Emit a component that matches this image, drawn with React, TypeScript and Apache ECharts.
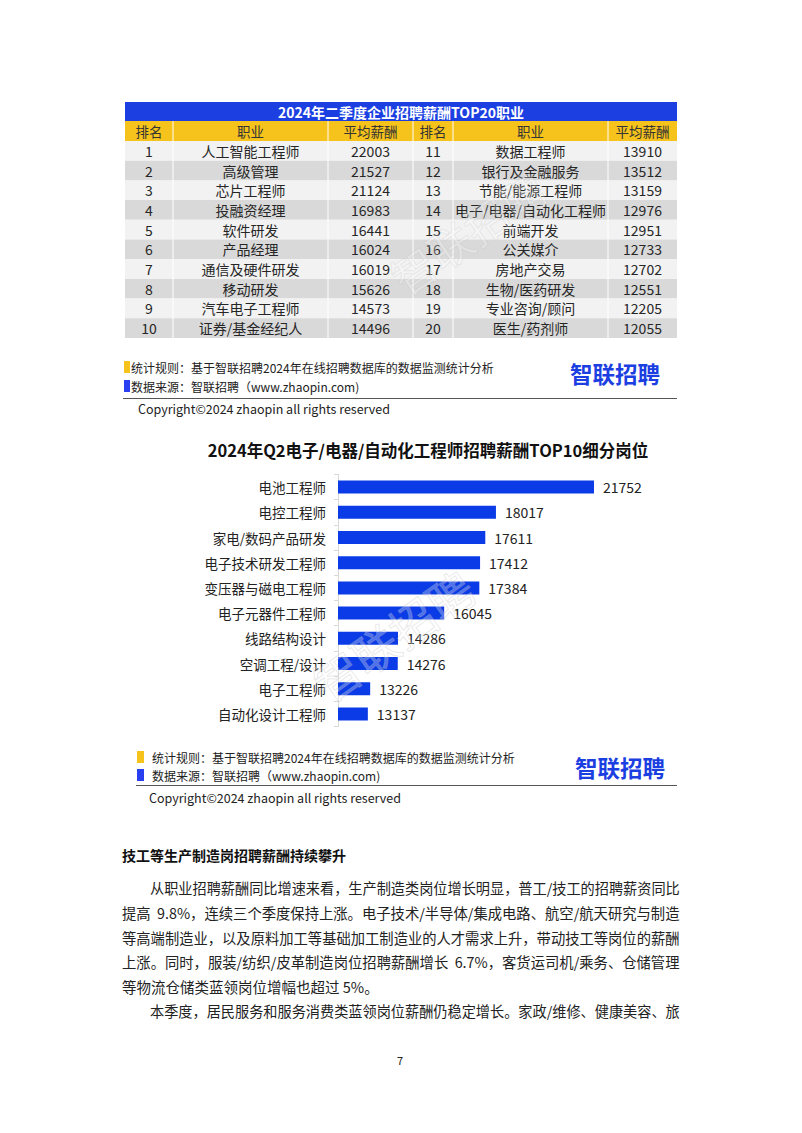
import React, { useEffect, useRef } from "react";
import * as echarts from "echarts";

const FONT = '"Noto Sans CJK SC", "Microsoft YaHei", sans-serif';

// ---------- table data ----------
const tableTitle = "2024年二季度企业招聘薪酬TOP20职业";
const tableHeaders = ["排名", "职业", "平均薪酬", "排名", "职业", "平均薪酬"];
const leftRanks = [1, 2, 3, 4, 5, 6, 7, 8, 9, 10];
const leftJobs = ["人工智能工程师", "高级管理", "芯片工程师", "投融资经理", "软件研发", "产品经理", "通信及硬件研发", "移动研发", "汽车电子工程师", "证券/基金经纪人"];
const leftSalaries = [22003, 21527, 21124, 16983, 16441, 16024, 16019, 15626, 14573, 14496];
const rightRanks = [11, 12, 13, 14, 15, 16, 17, 18, 19, 20];
const rightJobs = ["数据工程师", "银行及金融服务", "节能/能源工程师", "电子/电器/自动化工程师", "前端开发", "公关媒介", "房地产交易", "生物/医药研发", "专业咨询/顾问", "医生/药剂师"];
const rightSalaries = [13910, 13512, 13159, 12976, 12951, 12733, 12702, 12551, 12205, 12055];

// ---------- bar chart data ----------
const chartTitle = "2024年Q2电子/电器/自动化工程师招聘薪酬TOP10细分岗位";
const positions = ["电池工程师", "电控工程师", "家电/数码产品研发", "电子技术研发工程师", "变压器与磁电工程师", "电子元器件工程师", "线路结构设计", "空调工程/设计", "电子工程师", "自动化设计工程师"];
const positionSalaries = [21752, 18017, 17611, 17412, 17384, 16045, 14286, 14276, 13226, 13137];

// ---------- text ----------
const noteRule = "统计规则：基于智联招聘2024年在线招聘数据库的数据监测统计分析";
const noteSource = "数据来源：智联招聘（www.zhaopin.com)";
const logoText = "智联招聘";
const copyright = "Copyright©2024 zhaopin all rights reserved";
const heading = "技工等生产制造岗招聘薪酬持续攀升";
const paragraphLines = [
  "从职业招聘薪酬同比增速来看，生产制造类岗位增长明显，普工/技工的招聘薪资同比",
  "提高  9.8%，连续三个季度保持上涨。电子技术/半导体/集成电路、航空/航天研究与制造",
  "等高端制造业，以及原料加工等基础加工制造业的人才需求上升，带动技工等岗位的薪酬",
  "上涨。同时，服装/纺织/皮革制造岗位招聘薪酬增长  6.7%，客货运司机/乘务、仓储管理",
  "等物流仓储类蓝领岗位增幅也超过 5%。",
  "本季度，居民服务和服务消费类蓝领岗位薪酬仍稳定增长。家政/维修、健康美容、旅",
];
const indentedLines = [0, 5];
const justifiedLines = [0, 1, 2, 3, 5];
const pageNumber = "7";

const BLUE = "#1c3fe2";
const BAR_BLUE = "#0a3be6";
const YELLOW = "#f6c21c";

let measureCtx: CanvasRenderingContext2D | null = null;
function measure(text: string, fontSize: number, weight = "normal") {
  if (!measureCtx) measureCtx = document.createElement("canvas").getContext("2d");
  if (!measureCtx) return 0;
  measureCtx.font = `${weight} ${fontSize}px ${FONT}`;
  return measureCtx.measureText(text).width;
}

function txt(text: string, x: number, y: number, opts: any = {}) {
  return {
    type: "text",
    x,
    y,
    z: opts.z ?? 10,
    rotation: opts.rotation ?? 0,
    scaleX: opts.scaleX ?? 1,
    style: {
      text,
      fontSize: opts.fontSize ?? 14,
      fontFamily: FONT,
      fontWeight: opts.fontWeight ?? "normal",
      fill: opts.fill ?? "#222",
      stroke: opts.stroke,
      lineWidth: opts.lineWidth,
      align: opts.align ?? "left",
      verticalAlign: opts.verticalAlign ?? "middle",
    },
  };
}

function buildGraphics() {
  const g: any[] = [];
  // ---- table ----
  const cols = [125, 173, 328, 413, 453, 608, 677];
  const tTop = 102;
  const titleH = 19;
  const headH = 20;
  const rowH = 19.7;
  const left = cols[0];
  const right = cols[cols.length - 1];
  g.push({ type: "rect", shape: { x: left, y: tTop, width: right - left, height: titleH }, style: { fill: BLUE } });
  g.push(txt(tableTitle, (left + right) / 2, tTop + titleH / 2 + 0.5, { fill: "#fff", fontWeight: "bold", fontSize: 14, align: "center" }));
  const hy = tTop + titleH;
  g.push({ type: "rect", shape: { x: left, y: hy, width: right - left, height: headH }, style: { fill: YELLOW } });
  tableHeaders.forEach((h, i) => {
    g.push(txt(h, (cols[i] + cols[i + 1]) / 2, hy + headH / 2, { fontSize: 13.5, fill: "#333", align: "center" }));
  });
  const dy = hy + headH;
  for (let r = 0; r < leftRanks.length; r++) {
    const y = dy + r * rowH;
    g.push({ type: "rect", shape: { x: left, y, width: right - left, height: rowH }, style: { fill: r % 2 === 0 ? "#f2f2f2" : "#d9d9d9" } });
    const vals = [String(leftRanks[r]), leftJobs[r], String(leftSalaries[r]), String(rightRanks[r]), rightJobs[r], String(rightSalaries[r])];
    vals.forEach((v, i) => {
      g.push(txt(v, (cols[i] + cols[i + 1]) / 2, y + rowH / 2, { fontSize: 14, fill: "#262626", align: "center" }));
    });
  }
  const tBottom = dy + leftRanks.length * rowH;
  for (let i = 1; i < cols.length - 1; i++) {
    g.push({ type: "line", shape: { x1: cols[i], y1: hy, x2: cols[i], y2: tBottom }, style: { stroke: "#ffffff", lineWidth: 1 } });
  }
  // table watermark
  g.push(txt(logoText, 395, 282, { fontSize: 44, rotation: 0.6, fill: "rgba(255,255,255,0.25)", stroke: "rgba(170,170,170,0.22)", lineWidth: 1, z: 50 }));

  // ---- notes ----
  const notes = (sqX: number, textX: number, y1: number, y2: number, logoX: number, logoY: number, lineX1: number, lineY: number, copyX: number, copyY: number, sqW: number) => {
    g.push({ type: "rect", shape: { x: sqX, y: y1 - 6, width: sqW, height: 12 }, style: { fill: YELLOW } });
    g.push({ type: "rect", shape: { x: sqX, y: y2 - 6, width: sqW, height: 12 }, style: { fill: "#2a3ff0" } });
    g.push(txt(noteRule, textX, y1, { fontSize: 12, fill: "#222" }));
    g.push(txt(noteSource, textX, y2, { fontSize: 12, fill: "#222" }));
    g.push(txt(logoText, logoX, logoY, { fontSize: 22.5, fontWeight: "bold", fill: BLUE }));
    g.push({ type: "line", shape: { x1: lineX1, y1: lineY, x2: 677, y2: lineY }, style: { stroke: "#555", lineWidth: 1 } });
    g.push(txt(copyright, copyX, copyY, { fontSize: 12.5, fill: "#222" }));
  };
  notes(124, 131, 367, 386, 570, 373, 123, 398.5, 138, 408, 6);
  notes(137, 152, 757, 775, 575, 767, 136, 785.5, 149, 797, 7);

  // chart watermark
  g.push(txt(logoText, 318, 688, { fontSize: 46, rotation: 0.62, fill: "rgba(255,255,255,0.28)", stroke: "rgba(170,170,170,0.3)", lineWidth: 1, z: 50 }));

  // ---- body text ----
  g.push(txt(heading, 122, 855, { fontSize: 14, fontWeight: "bold", fill: "#111" }));
  const lineYs = [887, 912, 937, 961.5, 986, 1010.5];
  const textRight = 680;
  paragraphLines.forEach((line, i) => {
    const x = indentedLines.includes(i) ? 150 : 122;
    let scaleX = 1;
    if (justifiedLines.includes(i)) {
      const w = measure(line, 14.5);
      if (w > 0) scaleX = (textRight - x) / w;
      if (scaleX > 1.12 || scaleX < 0.9) scaleX = 1;
    }
    g.push(txt(line, x, lineYs[i], { fontSize: 14.5, fill: "#222", scaleX }));
  });
  g.push(txt(pageNumber, 400, 1060, { fontSize: 11, fill: "#222", align: "center" }));
  return g;
}

export default function App() {
  const ref = useRef<HTMLDivElement>(null);
  useEffect(() => {
    if (!ref.current) return;
    const chart = echarts.init(ref.current, null, { renderer: "svg" });
    chart.setOption({
      animation: false,
      backgroundColor: "#ffffff",
      textStyle: { fontFamily: FONT },
      title: {
        text: chartTitle,
        left: 423,
        top: 437,
        textAlign: "center",
        textStyle: { fontSize: 16.5, fontWeight: "bold", color: "#111", fontFamily: FONT },
      },
      grid: { left: 338, top: 474.5, width: 315, height: 252, containLabel: false },
      xAxis: {
        type: "value",
        min: 12000,
        max: 24000,
        show: false,
      },
      yAxis: {
        type: "category",
        inverse: true,
        data: positions,
        axisLine: { show: true, lineStyle: { color: "#d9d9d9", width: 1 } },
        axisTick: { show: true, length: 4, lineStyle: { color: "#d9d9d9" } },
        axisLabel: { margin: 12, fontSize: 13.5, color: "#222", fontFamily: FONT },
      },
      series: [
        {
          type: "bar",
          data: positionSalaries,
          barWidth: 13,
          itemStyle: { color: BAR_BLUE },
          label: {
            show: true,
            position: "right",
            distance: 9,
            fontSize: 14,
            color: "#222",
            fontFamily: FONT,
          },
        },
      ],
      graphic: { elements: buildGraphics() },
    });
    return () => chart.dispose();
  }, []);
  return (
    <div
      ref={ref}
      style={{ position: "absolute", left: 0, top: 0, width: 802, height: 1133, background: "#fff" }}
    />
  );
}
